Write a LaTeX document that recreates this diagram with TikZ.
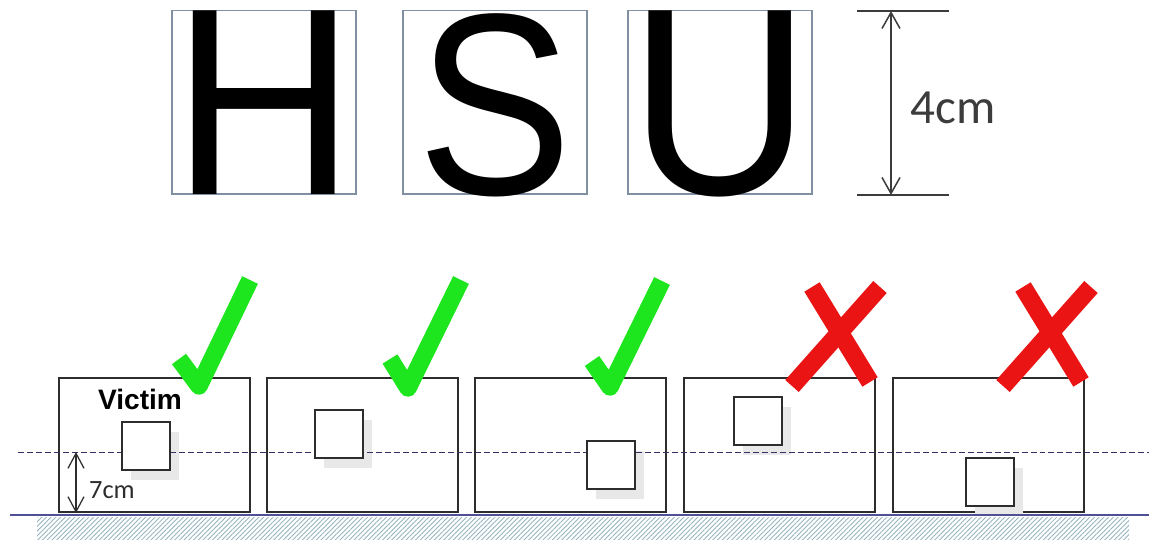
\documentclass[tikz,border=0pt]{standalone}
\usepackage{fontspec}
\setmainfont{Liberation Sans}
\newfontfamily\calibri{Carlito}
\usetikzlibrary{arrows.meta,patterns.meta}
\definecolor{chk}{RGB}{30,230,30}
\definecolor{crs}{RGB}{235,20,20}
\definecolor{lbox}{RGB}{128,144,162}
\definecolor{boxc}{RGB}{45,45,45}
\definecolor{dimc}{RGB}{60,60,60}
\definecolor{navy}{RGB}{50,50,100}
\definecolor{groundc}{RGB}{80,80,150}
\definecolor{hatchc}{RGB}{150,180,190}
\definecolor{shadowc}{RGB}{232,232,232}
\newcommand{\bigletter}[3]{\makebox[3.68cm]{\scalebox{#1}[#2]{#3}}}
\begin{document}
\begin{tikzpicture}[x=0.02cm,y=-0.02cm,
  letterbox/.style={draw=lbox, line width=0.03cm, inner sep=0pt, minimum width=3.68cm,
    text height=3.68cm, text depth=0pt, font=\fontsize{152}{152}\selectfont, anchor=south},
  room/.style={draw=boxc, line width=0.025cm, inner sep=0pt, minimum width=3.82cm, minimum height=2.68cm},
  target/.style={draw=boxc, fill=white, line width=0.025cm, inner sep=0pt, minimum size=0.96cm},
  shadowbox/.style={fill=shadowc, inner sep=0pt, minimum size=0.96cm},
  dimline/.style={draw=dimc, line width=0.03cm},
  dimarrow/.style={dimc, line width=0.03cm, {Straight Barb[length=3.2mm,width=3.6mm]}-{Straight Barb[length=3.2mm,width=3.6mm]}},
  smallarrow/.style={boxc, line width=0.025cm, {Straight Barb[length=3mm,width=3.2mm]}-{Straight Barb[length=3mm,width=3.2mm]}},
  checkmark/.style={draw=chk, line width=0.35cm, line join=round, line cap=butt},
  crossmark/.style={draw=crs, line width=0.36cm, line cap=butt},
  refline/.style={draw=navy, line width=0.02cm, dash pattern=on 3.4pt off 1.7pt},
  groundline/.style={draw=groundc, line width=0.035cm}
]
\useasboundingbox (0,0) rectangle (1149,540);

% letters
\node[letterbox] (H) at (264,195) {\bigletter{0.95}{1}{H}};
\node[letterbox] (S) at (495,195) {\bigletter{0.87}{0.97}{S}};
\node[letterbox] (U) at (720,195) {\bigletter{0.94}{1}{U}};

% 4cm dimension
\coordinate (t4l) at (857,11);
\coordinate (t4r) at (949,11);
\coordinate (b4l) at (857,195);
\coordinate (b4r) at (949,195);
\coordinate (t4) at (891,11);
\coordinate (b4) at (891,195);
\draw[dimline] (t4l) -- (t4r);
\draw[dimline] (b4l) -- (b4r);
\draw[dimarrow] (t4) -- (b4);
\node[font=\calibri\fontsize{28}{28}\selectfont, text=dimc] (l4) at (953,108) {4cm};

% ground hatch
\fill[pattern={Lines[angle=45,distance=1.9pt,line width=0.5pt]}, pattern color=hatchc] (37,517) rectangle (1129,540);

% rooms
\node[room] (r1) at (154.5,445) {};
\node[room] (r2) at (362.5,445) {};
\node[room] (r3) at (570.5,445) {};
\node[room] (r4) at (779.5,445) {};
\node[room] (r5) at (988.5,445) {};

% shadows
\node[shadowbox] (sh1) at (155,456) {};
\node[shadowbox] (sh2) at (348,444) {};
\node[shadowbox] (sh3) at (620,475) {};
\node[shadowbox] (sh4) at (767,431) {};
\node[shadowbox] (sh5) at (999,492) {};

% reference line
\coordinate (dl) at (18,452);
\coordinate (dr) at (1149,452);
\draw[refline] (dl) -- (dr);

% targets
\node[target] (q1) at (146,446) {};
\node[target] (q2) at (339,434) {};
\node[target] (q3) at (611,465) {};
\node[target] (q4) at (758,421) {};
\node[target] (q5) at (990,482) {};

% ground line
\coordinate (gl) at (10,515);
\coordinate (gr) at (1149,515);
\draw[groundline] (gl) -- (gr);

% 7cm dimension
\coordinate (t7) at (76,452);
\coordinate (b7) at (76,513);
\draw[smallarrow] (t7) -- (b7);
\node[font=\calibri\fontsize{15}{15}\selectfont, text=boxc] (l7) at (112,490) {7cm};

\node[font=\bfseries\fontsize{16}{16}\selectfont] (victim) at (140,399) {Victim};

% checks
\draw[checkmark] (179,359) -- (199,386) -- (250,280);
\draw[checkmark] (390,359) -- (408,388) -- (461,280);
\draw[checkmark] (592,361) -- (610,387) -- (662,281);

% crosses
\draw[crossmark] (812,287) -- (870,382);
\draw[crossmark] (880,287) -- (792,386);
\draw[crossmark] (1023,287) -- (1081,382);
\draw[crossmark] (1091,287) -- (1003,386);
\end{tikzpicture}
\end{document}
